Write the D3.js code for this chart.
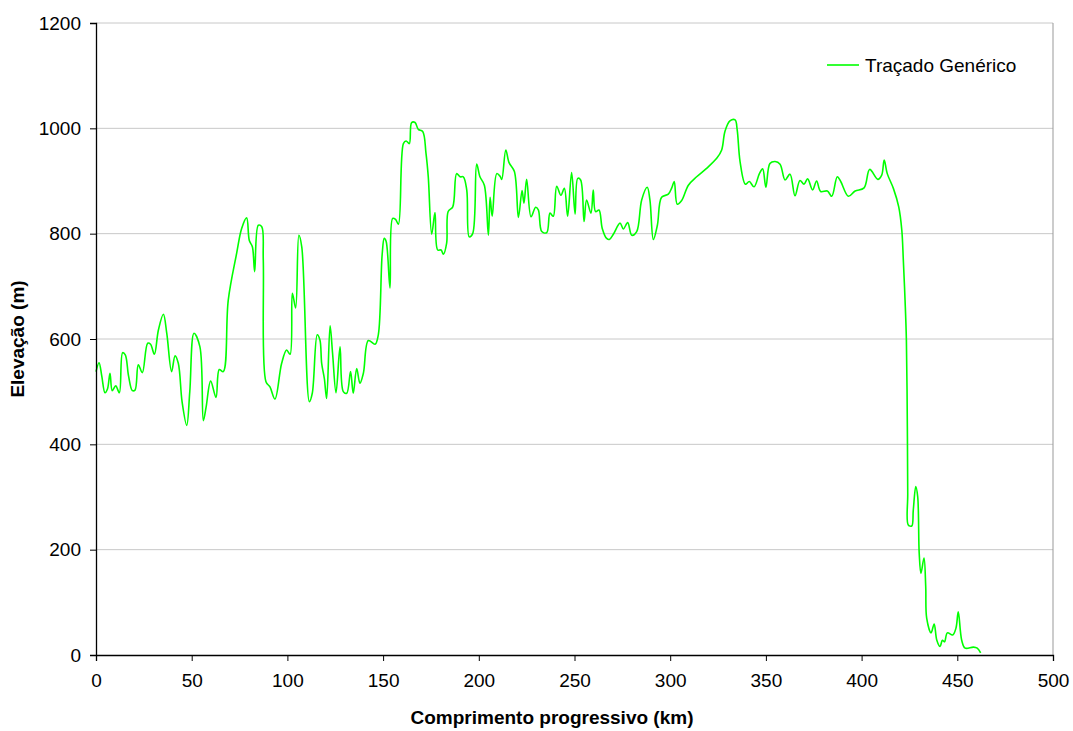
<!DOCTYPE html>
<html>
<head>
<meta charset="utf-8">
<script src="https://cdn.jsdelivr.net/npm/d3@7"></script>
<style>
  html, body { margin: 0; padding: 0; background: #fff; }
  #svgContainer { width: 1073px; height: 731px; }
  text { font-family: "Liberation Sans", Arial, sans-serif; fill: #000; }
</style>
</head>
<body>
<div id="svgContainer"></div>
<script>
// distance along route (km) and elevation (m)
const km = [
  0, 1.6, 3, 4.7, 6, 7.3, 8.5, 10.3, 12.2, 13.9, 15.3, 17, 19, 20.4, 22.1, 24.2,
  27, 28.5, 30.5, 32.6, 35.2, 37, 39.5, 41.3, 43, 45, 47.4, 49, 51.2, 54.3, 56.1,
  57.5, 59.9, 62.7, 64.4, 66.5, 69.1, 73.5, 76.1, 78.7, 80.1, 81.7, 82.9, 84.8,
  86.6, 87.4, 88.8, 90.9, 93.5, 97, 99.6, 101.4, 102.6, 104.3, 106, 107.5, 111.5,
  113, 115.6, 117, 117.9, 119.3, 120.5, 122.3, 123.6, 125.4, 127.5, 129.2, 131,
  133, 134.4, 136.2, 137.9, 139.7, 142.3, 145.8, 147.5, 149.5, 150.6, 151.6,
  153.6, 155, 156.5, 158, 160.6, 162, 163.7, 164.9, 166.7, 168.4, 170.7, 172.4,
  173.6, 175.4, 177.1, 178.5, 180.3, 181.5, 183.2, 184, 186.4, 188.4, 190.2,
  191.9, 193.7, 195, 196.8, 198.9, 200.6, 202.9, 205, 205.9, 207, 209.4, 211.1,
  212, 214.1, 215.8, 218.6, 220.7, 222.6, 223.6, 225, 227.3, 229.7, 231.1, 232.9,
  235.5, 237.2, 238.9, 240.7, 242.9, 244.7, 246.4, 248.5, 250.3, 251.7, 253.2,
  255, 256.3, 258.6, 259.8, 261, 262.8, 264.5, 266.8, 268.2, 270.3, 273.8, 275.5,
  277.8, 279.9, 282.5, 285.1, 288, 289.4, 291.2, 293.3, 295.5, 299, 300.8, 302.1,
  303.7, 306, 309.5, 313.8, 319, 324.3, 326.9, 328.6, 331.2, 333.9, 335, 336.5,
  339.3, 341.3, 343.8, 346.6, 348.3, 350, 352.1, 354.8, 357.4, 360, 362.6, 365.2,
  367.8, 369.9, 371.8, 374.4, 376.5, 378.6, 382.1, 384.4, 387.3, 389.1, 393.1,
  396.6, 401.3, 404.2, 408.5, 410.5, 411.8, 413.4, 416.6, 419.4, 421, 421.8,
  422.7, 423.4, 423.9, 424.1, 424.4, 426.2, 427, 428.3, 429.3, 430.1, 431, 432.6,
  433.5, 434, 436.3, 437.9, 439.3, 441, 442.2, 443.3, 444.8, 447.6, 449.3, 450.5,
  452.3, 454.1, 458.4, 460.4, 462.2
];
const elevation = [
  538, 555, 530, 498, 505, 535, 502, 511, 498, 574, 570, 530, 502, 503, 551, 536,
  592, 590, 571, 617, 647, 610, 538, 568, 554, 480, 436, 500, 611, 585, 445,
  470, 520, 489, 542, 538, 674, 763, 810, 830, 787, 775, 728, 816,
  813, 750, 519, 509, 486, 554, 579, 571, 687, 659, 797, 775, 481,
  497, 608, 598, 554, 525, 487, 625, 573, 498, 585, 500, 497,
  538, 497, 544, 516, 535, 597, 590, 608, 760, 791, 785,
  697, 829, 827, 818, 971, 976, 971, 1011, 1011, 998, 994, 953,
  908, 799, 840, 769, 769, 761, 782, 842, 851, 914, 908,
  908, 883, 794, 800, 932, 908, 892, 797, 869, 833, 914, 909,
  903, 959, 935, 918, 831, 882, 858, 903, 832, 850, 845, 804,
  802, 839, 833, 890, 873, 886, 833, 916, 837, 905, 902,
  823, 864, 839, 883, 842, 845, 810, 791, 789, 799, 820, 809,
  821, 797, 804, 864, 888, 864, 789, 816, 869, 875, 887, 899,
  856, 863, 892, 908, 924, 943, 959, 994, 1014, 1016, 997, 937,
  894, 899, 889, 914, 923, 888, 933, 937, 932, 902, 913, 872,
  901, 894, 904, 883, 900, 880, 881, 871, 908, 899, 871,
  881, 887, 922, 903, 911, 940, 914, 886, 851, 807, 750,
  674, 598, 433, 307, 247, 245, 275, 320, 301, 193, 155, 184,
  130, 70, 42, 59, 28, 16, 28, 25, 42, 38, 51, 82,
  28, 13, 15, 13, 4
];

const xTicks = [0, 50, 100, 150, 200, 250, 300, 350, 400, 450, 500];
const yTicks = [0, 200, 400, 600, 800, 1000, 1200];

const seriesName = "Traçado Genérico";
const xTitle = "Comprimento progressivo (km)";
const yTitle = "Elevação (m)";

const width = 1073;
const height = 731;

const margin = { top: 23, right: 20, bottom: 76, left: 96 };

const svg = d3
  .select("#svgContainer")
  .append("svg")
  .attr("width", width)
  .attr("height", height)
  .attr("viewBox", `0 0 ${width} ${height}`);

const x = d3
  .scaleLinear()
  .domain([0, 500])
  .range([margin.left, width - margin.right]);

const y = d3
  .scaleLinear()
  .domain([0, 1200])
  .range([height - margin.bottom, margin.top]);

const points = km.map((k, i) => ({ k: k, e: elevation[i] }));

// horizontal gridlines
svg
  .append("g")
  .selectAll("line")
  .data(yTicks.slice(1))
  .enter()
  .append("line")
  .attr("x1", x(0))
  .attr("x2", x(500))
  .attr("y1", (d) => y(d))
  .attr("y2", (d) => y(d))
  .attr("stroke", "#c8c8c8")
  .attr("stroke-width", 1);

// plot border (right side)
svg
  .append("line")
  .attr("x1", x(500))
  .attr("x2", x(500))
  .attr("y1", y(1200))
  .attr("y2", y(0))
  .attr("stroke", "#999")
  .attr("stroke-width", 1);

// the profile line
const line = d3
  .line()
  .x((d) => x(d.k))
  .y((d) => y(d.e))
  .curve(d3.curveCatmullRom.alpha(0.5));

svg
  .append("path")
  .datum(points)
  .attr("fill", "none")
  .attr("stroke", "#00ff00")
  .attr("stroke-width", 1.6)
  .attr("stroke-linejoin", "round")
  .attr("d", line);

// axes
const xAxis = svg
  .append("g")
  .attr("transform", `translate(0, ${y(0)})`)
  .call(d3.axisBottom(x).tickValues(xTicks).tickFormat(d3.format("d")).tickSize(6).tickPadding(13));

const yAxis = svg
  .append("g")
  .attr("transform", `translate(${x(0)}, 0)`)
  .call(d3.axisLeft(y).tickValues(yTicks).tickFormat(d3.format("d")).tickSize(6).tickPadding(9));

[xAxis, yAxis].forEach((ax) => {
  ax.select(".domain").attr("stroke", "#000").attr("stroke-width", 1.3);
  ax.selectAll(".tick line").attr("stroke", "#000");
  ax.selectAll(".tick text")
    .attr("font-family", '"Liberation Sans", Arial, sans-serif')
    .attr("font-size", 19)
    .attr("fill", "#000");
});

// axis titles
svg
  .append("text")
  .attr("x", 552)
  .attr("y", 724)
  .attr("text-anchor", "middle")
  .attr("font-size", 19)
  .attr("font-weight", "bold")
  .text(xTitle);

svg
  .append("text")
  .attr("transform", `translate(24, ${(y(0) + y(1200)) / 2}) rotate(-90)`)
  .attr("text-anchor", "middle")
  .attr("font-size", 19)
  .attr("font-weight", "bold")
  .text(yTitle);

// legend
const legend = svg.append("g").attr("transform", "translate(827, 65)");

legend
  .append("line")
  .attr("x1", 0)
  .attr("x2", 32)
  .attr("y1", 0)
  .attr("y2", 0)
  .attr("stroke", "#00ff00")
  .attr("stroke-width", 1.6);

legend
  .append("text")
  .attr("x", 38)
  .attr("y", 7)
  .attr("font-size", 19)
  .text(seriesName);
</script>
</body>
</html>
